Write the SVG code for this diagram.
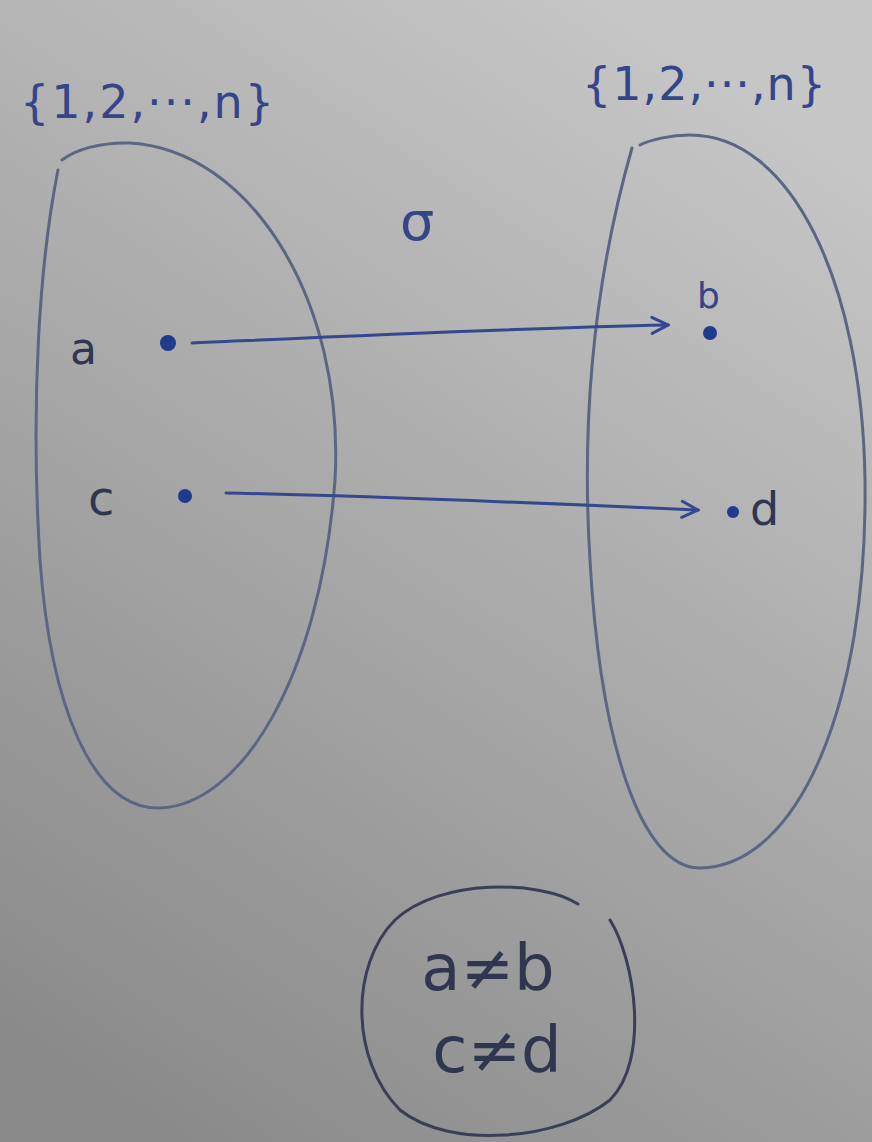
<svg xmlns="http://www.w3.org/2000/svg" width="872" height="1142" viewBox="0 0 872 1142">
<defs>
<linearGradient id="bg" x1="0.7" y1="0" x2="0.2" y2="1">
<stop offset="0" stop-color="#c6c6c6"/>
<stop offset="0.5" stop-color="#a8a8a8"/>
<stop offset="1" stop-color="#8a8a8a"/>
</linearGradient>
<marker id="arr" viewBox="0 0 20 20" refX="18" refY="10" markerWidth="20" markerHeight="20" markerUnits="userSpaceOnUse" orient="auto">
<path d="M2 2 L18 10 L2 18" fill="none" stroke="#34488f" stroke-width="3" stroke-linecap="round"/>
</marker>
<style>
.oval{fill:none;stroke:#5c6682;stroke-width:3;stroke-linecap:round}
.ink{font-family:"DejaVu Sans","Liberation Sans",sans-serif;fill:#34458a}
.dark{font-family:"DejaVu Sans","Liberation Sans",sans-serif;fill:#303650}
.dot{fill:#1f3a8f}
.edge{fill:none;stroke:#34488f;stroke-width:3;stroke-linecap:round}
</style>
</defs>
<rect width="872" height="1142" fill="url(#bg)"/>
<g id="left-set">
<path class="oval" d="M58 170 C40 260 30 400 40 560 C50 700 90 810 160 808 C240 805 320 680 335 480 C345 300 250 150 130 143 C100 142 75 150 62 160"/>
<text class="ink" x="20" y="118" font-size="46" letter-spacing="2">{1,2,···,n}</text>
</g>
<g id="right-set">
<path class="oval" d="M632 148 C600 260 580 400 590 560 C600 740 640 868 700 868 C800 866 868 700 865 480 C862 280 790 135 690 135 C670 135 650 140 640 145"/>
<text class="ink" x="582" y="100" font-size="46" letter-spacing="1">{1,2,···,n}</text>
</g>
<g id="sigma"><text class="ink" x="400" y="240" font-size="54">σ</text></g>
<g id="node-a"><text class="dark" x="70" y="364" font-size="44">a</text><circle class="dot" cx="168" cy="343" r="8"/></g>
<g id="node-b"><text class="ink" x="697" y="308" font-size="36">b</text><circle class="dot" cx="710" cy="333" r="7"/></g>
<g id="node-c"><text class="dark" x="88" y="515" font-size="48">c</text><circle class="dot" cx="185" cy="496" r="7"/></g>
<g id="node-d"><circle class="dot" cx="733" cy="512" r="6"/><text class="dark" x="750" y="525" font-size="46">d</text></g>
<g id="connectors">
<path class="edge" marker-end="url(#arr)" d="M192 343 C350 336 520 328 668 325"/>
<path class="edge" marker-end="url(#arr)" d="M226 493 C380 496 560 504 698 510"/>
</g>
<g id="conditions">
<path class="oval" style="stroke:#3a3f55" d="M578 904 C540 880 440 878 395 920 C350 965 350 1060 400 1110 C450 1150 560 1140 610 1100 C650 1060 635 960 610 920"/>
<text class="dark" x="488" y="990" font-size="64" text-anchor="middle">a≠b</text>
<text class="dark" x="497" y="1072" font-size="64" text-anchor="middle">c≠d</text>
</g>
</svg>
